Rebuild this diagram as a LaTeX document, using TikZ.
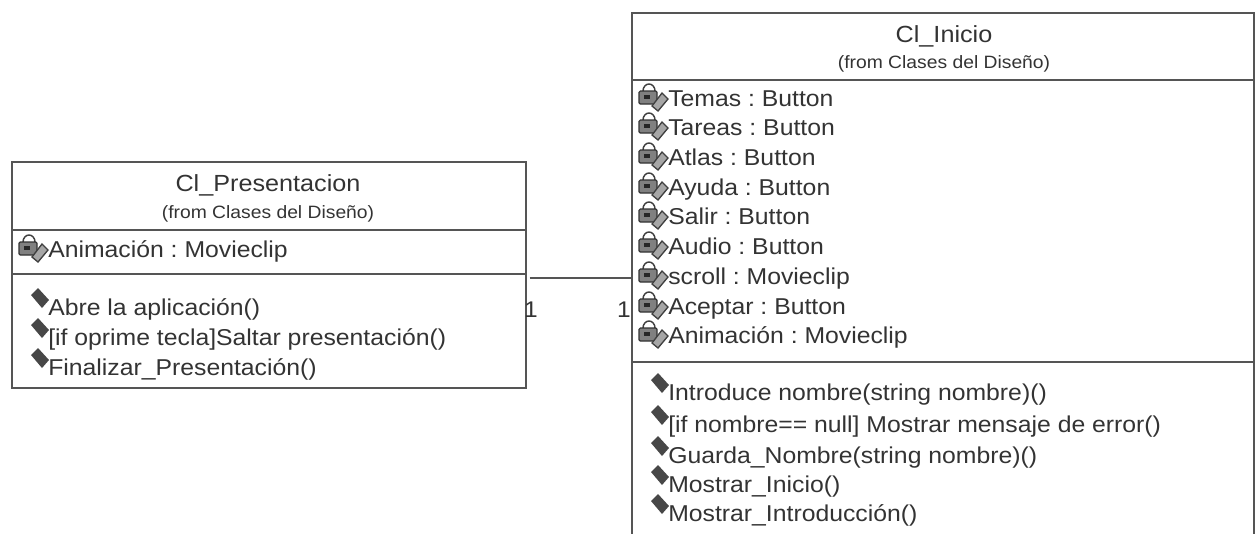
\documentclass[tikz,border=0pt]{standalone}
\usepackage{fontspec}
\setmainfont[FakeStretch=1.08]{Liberation Sans}
\frenchspacing
\definecolor{linea}{HTML}{555555}
\definecolor{texto}{HTML}{333333}
\tikzset{
  classbox/.style={draw=linea,line width=1.4pt,minimum width=#1,inner sep=0pt},
  member/.style={anchor=base west,inner sep=0pt,text=texto,font=\fontsize{17.2}{20}\selectfont},
  title/.style={inner sep=0pt,text=texto,font=\fontsize{17.5}{20}\selectfont},
  from/.style={inner sep=0pt,text=texto,font=\fontsize{13.4}{15}\selectfont},
  mult/.style={inner sep=0pt,text=texto,font=\fontsize{17}{20}\selectfont},
  pics/attricon/.style={code={
    \draw[line width=1.1pt,draw=black!75] (-25,-15) arc (180:360:6 and 7);
    \draw[line width=.9pt,draw=black!80,fill=black!50,rounded corners=1pt] (-29,-15) rectangle (-11,-2);
    \fill[black!85] (-24,-11) rectangle (-18,-7);
    \draw[line width=1pt,draw=black!75,fill=black!35] (-16,0) -- (-6,-13) -- (0,-7) -- (-10,5) -- cycle;
  }},
  pics/opicon/.style={code={
    \fill[black!72] (-17,-20) -- (-10,-27) -- (1,-15) -- (-6,-7) -- cycle;
  }}
}
\begin{document}
\begin{tikzpicture}[x=.75pt,y=-.75pt]
  \useasboundingbox (0,0) rectangle (1255,533);

  % class boxes
  \node[classbox=514*.75pt,minimum height=226*.75pt] (presentacion) at (269,275) {};
  \node[classbox=622*.75pt,minimum height=530*.75pt] (inicio) at (943,278) {};
  \draw[linea,line width=1.4pt] (12,230) -- (526,230);
  \draw[linea,line width=1.4pt] (12,274) -- (526,274);
  \draw[linea,line width=1.4pt] (632,80) -- (1254,80);
  \draw[linea,line width=1.4pt] (632,362) -- (1254,362);

  \node[title] (presentacionname) at (268,185) {Cl\_Presentacion};
  \node[from] (presentacionfrom) at (268,214) {(from Clases del Diseño)};
  \node[title] (inicioname) at (944,36) {Cl\_Inicio};
  \node[from] (iniciofrom) at (944,64) {(from Clases del Diseño)};

  % attributes
  \pic at (48,257) {attricon};
  \node[member] (attrp) at (48,257) {Animación : Movieclip};
  \foreach \i/\y/\txt in {1/106/Temas : Button,2/135/Tareas : Button,3/165/Atlas : Button,4/195/Ayuda : Button,5/224/Salir : Button,6/254/Audio : Button,7/284/scroll : Movieclip,8/314/Aceptar : Button,9/343/Animación : Movieclip}{
    \pic at (668,\y) {attricon};
    \node[member] (attr\i) at (668,\y) {\txt};
  }

  % operations
  \foreach \i/\y/\txt in {1/315/Abre la aplicación(),2/345/{[if oprime tecla]Saltar presentación()},3/375/Finalizar\_Presentación()}{
    \pic at (48,\y) {opicon};
    \node[member] (opp\i) at (48,\y) {\txt};
  }
  \foreach \i/\y/\txt in {1/400/Introduce nombre(string nombre)(),2/432/{[if nombre== null] Mostrar mensaje de error()},3/463/Guarda\_Nombre(string nombre)(),4/492/Mostrar\_Inicio(),5/521/Mostrar\_Introducción()}{
    \pic at (668,\y) {opicon};
    \node[member] (opi\i) at (668,\y) {\txt};
  }

  % association
  \draw[linea,line width=1.4pt] ([xshift=2]presentacion.east |- inicio.west) -- (inicio.west);
  \node[mult] (multp) at (531,310) {1};
  \node[mult] (multi) at (624,310) {1};
\end{tikzpicture}
\end{document}
